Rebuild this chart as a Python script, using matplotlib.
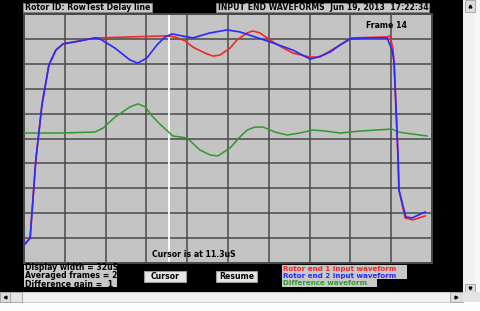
import numpy as np
import matplotlib.pyplot as plt
from matplotlib.patches import Rectangle

# waveform samples in grid units (10 x 10 divisions)
t_blue = [0, 0.15, 0.29, 0.44, 0.61, 0.78, 0.96, 1.37, 1.74, 1.86, 2.23, 2.60, 2.79, 3.01,
          3.26, 3.46, 3.63, 3.87, 4.14, 4.56, 4.98, 5.29, 5.66, 6.03, 6.59, 7.01, 7.21,
          7.50, 7.75, 7.99, 8.48, 8.90, 9.02, 9.07, 9.12, 9.17, 9.19, 9.36, 9.51, 9.83]
v_blue = [0.72, 1.00, 4.14, 6.35, 7.95, 8.55, 8.80, 8.92, 9.04, 9.00, 8.63, 8.15, 8.03, 8.23,
          8.76, 9.08, 9.20, 9.12, 9.04, 9.24, 9.36, 9.28, 9.08, 8.88, 8.55, 8.19, 8.27,
          8.47, 8.76, 9.00, 9.04, 9.04, 8.55, 8.07, 6.14, 4.14, 2.93, 1.85, 1.81, 2.05]

t_red = [0, 0.15, 0.29, 0.44, 0.61, 0.78, 0.96, 1.37, 1.74, 1.86, 2.60, 3.50, 3.70, 3.95,
         4.14, 4.44, 4.63, 4.80, 5.05, 5.22, 5.47, 5.61, 5.78, 6.03, 6.27, 6.59, 7.01,
         7.25, 7.75, 8.04, 8.90, 8.97, 9.04, 9.07, 9.12, 9.17, 9.19, 9.34, 9.53, 9.83]
v_red = [0.72, 1.00, 4.14, 6.35, 7.95, 8.55, 8.80, 8.92, 9.04, 9.04, 9.08, 9.12, 9.08, 8.92,
         8.67, 8.43, 8.31, 8.35, 8.63, 8.96, 9.24, 9.32, 9.24, 8.96, 8.71, 8.43, 8.27,
         8.27, 8.76, 9.04, 9.08, 9.12, 8.63, 8.07, 6.14, 4.14, 2.93, 1.81, 1.73, 1.89]

t_diff = [0, 0.88, 1.74, 1.94, 2.23, 2.60, 2.79, 2.97, 3.14, 3.33, 3.65, 4.00, 4.31, 4.56,
          4.75, 5.05, 5.29, 5.47, 5.66, 5.86, 6.15, 6.45, 6.76, 7.08, 7.38, 7.75, 8.24,
          9.02, 9.17, 9.88]
v_diff = [5.22, 5.22, 5.26, 5.42, 5.86, 6.27, 6.39, 6.27, 5.90, 5.58, 5.10, 5.02, 4.54, 4.34,
          4.30, 4.62, 5.06, 5.34, 5.46, 5.46, 5.26, 5.14, 5.22, 5.34, 5.30, 5.22, 5.30,
          5.38, 5.26, 5.10]

cursor_pos = 3.55

title_left = "Rotor ID: RowTest Delay line"
title_right = "INPUT END WAVEFORMS  Jun 19, 2013  17:22:34"
info_lines = ["Display width = 32uS", "Averaged frames = 2", "Difference gain =  1"]
legend_labels = ["Rotor end 1 input waveform", "Rotor end 2 input waveform", "Difference waveform"]
legend_colors = ["#f02828", "#2828ff", "#2e9a2e"]

W, H = 481, 311
fig = plt.figure(figsize=(W / 100, H / 100), dpi=100)
fig.patch.set_facecolor("white")

FONT = dict(family="DejaVu Sans", fontweight="bold", fontsize=5.6)
SMALL = dict(family="DejaVu Sans", fontweight="bold", fontsize=5.1)

# ── background window chrome (pixel coords) ─────────────────────────────────
bg = fig.add_axes([0, 0, 1, 1], zorder=0)
bg.set_xlim(0, W); bg.set_ylim(H, 0); bg.axis("off")

def rect(ax, x0, y0, x1, y1, fc, ec="none", lw=0.6):
    ax.add_patch(Rectangle((x0, y0), x1 - x0, y1 - y0, facecolor=fc, edgecolor=ec, lw=lw))

rect(bg, 0, 0, 463, 292, "black")
rect(bg, 463, 0, W, 292, "#f0f0f0")
rect(bg, 475, 0, W, 292, "#f7f7f7")
rect(bg, 465, 0, 475, 12, "#dcdcdc", "#a0a0a0")
rect(bg, 465, 284, 475, 292, "#dcdcdc", "#a0a0a0")
rect(bg, 0, 292, 463, 302, "#f0f0f0", "#c8c8c8")
rect(bg, 0, 292, 10, 302, "#dcdcdc", "#a0a0a0")
rect(bg, 10, 292, 22, 302, "#e4e4e4", "#a0a0a0")
rect(bg, 450, 292, 463, 302, "#dcdcdc", "#a0a0a0")
rect(bg, 463, 292, W, 302, "#e4e4e4")
bg.plot([470], [6], marker="^", ms=2, color="black")
bg.plot([470], [288], marker="v", ms=2, color="black")
bg.plot([5], [297], marker="<", ms=2, color="black")
bg.plot([456], [297], marker=">", ms=2, color="black")

# ── scope screen ────────────────────────────────────────────────────────────
x0, x1, y0, y1 = 24, 432, 14, 263
ax = fig.add_axes([x0 / W, 1 - y1 / H, (x1 - x0) / W, (y1 - y0) / H], zorder=1)
ax.set_facecolor("#c4c4c4")
ax.set_xlim(0, 10); ax.set_ylim(0, 10)
ax.set_xticks(range(11)); ax.set_yticks(range(11))
ax.tick_params(length=0, labelbottom=False, labelleft=False)
ax.grid(True, color="#4a4a4a", lw=1.1)
for s in ax.spines.values():
    s.set_color("#4a4a4a"); s.set_linewidth(1.4)
ax.axvline(cursor_pos, color="white", lw=1.3, zorder=2)
ax.plot(t_diff, v_diff, color=legend_colors[2], lw=1.1, zorder=3)
ax.plot(t_red, v_red, color=legend_colors[0], lw=1.2, zorder=3)
ax.plot(t_blue, v_blue, color=legend_colors[1], lw=1.2, zorder=4)

# ── labels and controls (pixel coords) ──────────────────────────────────────
top = fig.add_axes([0, 0, 1, 1], zorder=3)
top.set_xlim(0, W); top.set_ylim(H, 0); top.axis("off")
top.patch.set_alpha(0)

rect(top, 23, 3, 152, 12, "#c8c8c8", "#888888")
top.text(25, 7.7, title_left, va="center", ha="left", color="black", **FONT)
rect(top, 216, 3, 429, 12, "#c8c8c8", "#888888")
top.text(218, 7.7, title_right, va="center", ha="left", color="black", **FONT)

top.text(387, 25.5, "Frame 14", va="center", ha="center", color="black", **FONT)
top.text(194, 254.5, "Cursor is at 11.3uS", va="center", ha="center", color="black", **FONT)

rect(top, 24, 265, 117, 287, "#c8c8c8")
top.text(25, 276, "\n".join(info_lines), va="center", ha="left", color="black",
         linespacing=0.98, **FONT)

for bx0, bx1, lbl in [(144, 186, "Cursor"), (216, 257, "Resume")]:
    rect(top, bx0, 271, bx1, 282, "#e6e6e2", "#9a9a9a", lw=0.8)
    top.text((bx0 + bx1) / 2, 276.7, lbl, va="center", ha="center", color="black", **FONT)

rect(top, 282, 265, 407, 279, "#c8c8c8")
rect(top, 282, 279, 377, 286.5, "#c8c8c8")
for i, (lbl, c) in enumerate(zip(legend_labels, legend_colors)):
    top.text(283, 268.6 + 7.2 * i, lbl, va="center", ha="left", color=c, **SMALL)

fig.savefig("out.png", dpi=100, facecolor=fig.get_facecolor())
